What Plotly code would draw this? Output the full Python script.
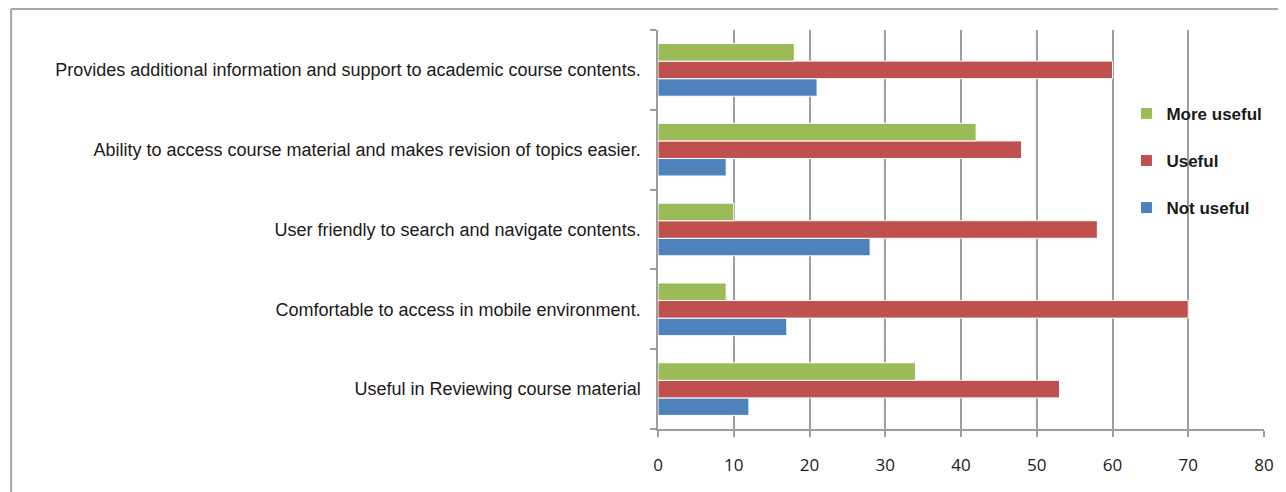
import plotly.graph_objects as go

categories = [
    "Useful in Reviewing course material",
    "Comfortable to access in mobile environment.",
    "User friendly to search and navigate contents.",
    "Ability to access course material and makes revision of topics easier.",
    "Provides additional information and support to academic course contents.",
]
not_useful = [12, 17, 28, 9, 21]
useful = [53, 70, 58, 48, 60]
more_useful = [34, 9, 10, 42, 18]

series = [
    ("Not useful", not_useful, "#4F81BD", 3),
    ("Useful", useful, "#C0504D", 2),
    ("More useful", more_useful, "#9BBB59", 1),
]

fig = go.Figure()
for name, vals, color, rank in series:
    fig.add_trace(go.Bar(
        y=categories, x=vals, name=name, orientation="h",
        marker=dict(color=color, line=dict(color="white", width=1)),
        legendgroup=name, legendrank=rank,
    ))

grid = "#9E9E9E"
W, H = 1278, 484
L, R, T, B = 650, 20, 22, 63
pw = W - L - R
ph = H - T - B

fig.update_layout(
    width=W, height=H,
    margin=dict(l=L, r=R, t=T, b=B),
    paper_bgcolor="white", plot_bgcolor="white",
    barmode="group", bargap=0.34, bargroupgap=0.0,
    font=dict(family="Liberation Sans, Arial, sans-serif", size=18, color="#1a1a1a"),
    legend=dict(
        x=0.773, y=0.835, xanchor="left", yanchor="top",
        traceorder="grouped", tracegroupgap=22,
        bgcolor="rgba(0,0,0,0)",
        font=dict(family="Liberation Sans, Arial, sans-serif", size=17, color="#1a1a1a", weight="bold"),
        itemwidth=30,
    ),
    xaxis=dict(
        range=[0, 80], dtick=10, tick0=0,
        showgrid=True, gridcolor=grid, gridwidth=1.5,
        showline=True, linecolor=grid, linewidth=1.5,
        ticks="outside", ticklen=6, tickcolor=grid, tickwidth=1.5,
        zeroline=False, ticklabelstandoff=14,
        tickfont=dict(size=17, family="Open Sans, Liberation Sans, sans-serif"),
        fixedrange=True,
    ),
    yaxis=dict(
        showline=True, linecolor=grid, linewidth=1.5,
        ticks="outside", ticklen=6, tickcolor=grid, tickwidth=1.5,
        tickson="boundaries", ticklabelstandoff=12,
        showgrid=False,
        tickfont=dict(size=18),
    ),
    shapes=[
        dict(type="line", xref="paper", yref="paper",
             x0=(1 - L) / pw, x1=(W + 10 - L) / pw,
             y0=1 + (T - 1) / ph, y1=1 + (T - 1) / ph,
             line=dict(color="#A6A6A6", width=2)),
        dict(type="line", xref="paper", yref="paper",
             x0=(1 - L) / pw, x1=(1 - L) / pw,
             y0=1 + (T - 1) / ph, y1=-0.3,
             line=dict(color="#A6A6A6", width=2)),
    ],
)

fig.write_html("out.html")
